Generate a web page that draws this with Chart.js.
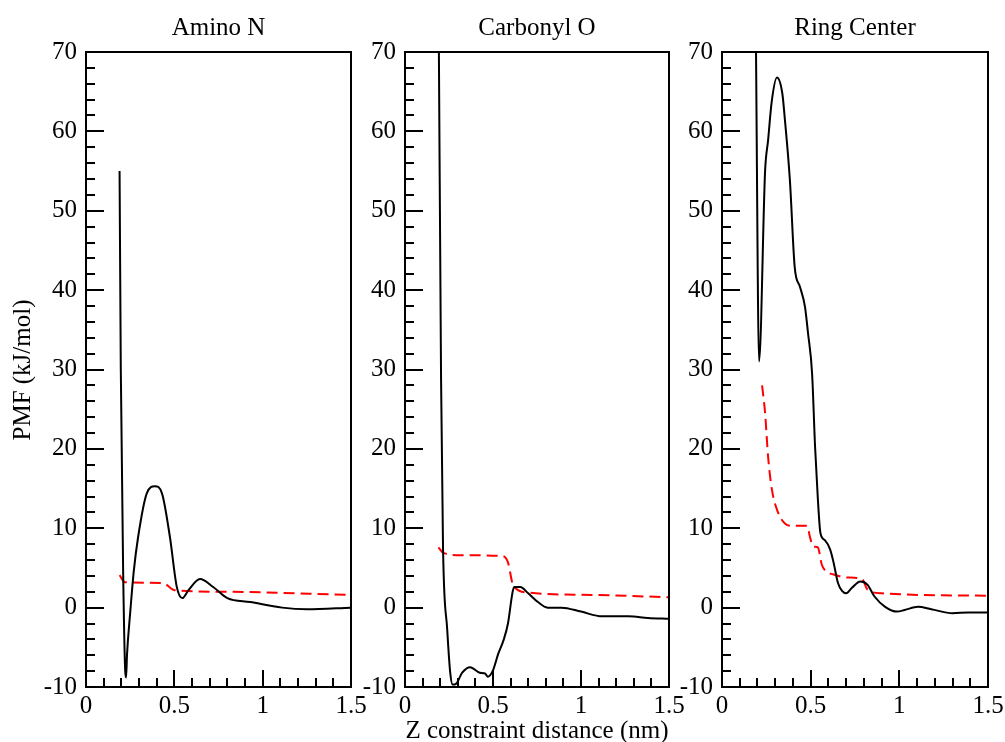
<!DOCTYPE html>
<html>
<head>
<meta charset="utf-8">
<script src="https://cdn.jsdelivr.net/npm/chart.js@4.4.1/dist/chart.umd.min.js"></script>
<style>
  html, body { margin: 0; padding: 0; background: #fff; overflow: hidden; }
  #wrap { position: relative; width: 1005px; height: 742px; overflow: hidden; }
  canvas { position: absolute; top: 0; }
</style>
</head>
<body>
<div id="wrap">
  <canvas id="c1"></canvas>
  <canvas id="c2"></canvas>
  <canvas id="c3"></canvas>
</div>
<script>
// panel titles
const titles = ['Amino N', 'Carbonyl O', 'Ring Center'];

// Amino N
const aminoX    = [0.19, 0.197, 0.21, 0.222, 0.227, 0.232, 0.25, 0.27, 0.295, 0.344, 0.39, 0.43, 0.475, 0.514, 0.545, 0.58, 0.645, 0.72, 0.80, 0.93, 1.11, 1.25, 1.5];
const aminoPmf  = [55, 30, 5, -8, -8.8, -6, -0.7, 4.5, 8.9, 14.4, 15.3, 14.4, 8.9, 2.6, 1.2, 2.2, 3.6, 2.6, 1.2, 0.7, 0, -0.2, 0];
const aminoRefX = [0.19, 0.22, 0.435, 0.5, 0.80, 1.5];
const aminoRef  = [4.1, 3.2, 3.1, 2.2, 2.0, 1.6];

// Carbonyl O
const carbX    = [0.192, 0.205, 0.216, 0.24, 0.257, 0.27, 0.29, 0.325, 0.37, 0.425, 0.455, 0.47, 0.5, 0.53, 0.56, 0.585, 0.61, 0.62, 0.655, 0.70, 0.755, 0.81, 0.89, 1.0, 1.12, 1.27, 1.38, 1.5];
const carbPmf  = [72, 28.6, 7.6, -2.8, -8.2, -9.7, -9.6, -8.2, -7.5, -8.2, -8.3, -8.7, -7.9, -5.8, -4.1, -2.0, 1.8, 2.6, 2.6, 1.8, 0.7, 0, 0, -0.5, -1.1, -1.1, -1.3, -1.4];
const carbRefX = [0.19, 0.217, 0.325, 0.55, 0.585, 0.61, 0.625, 0.70, 1.08, 1.5];
const carbRef  = [7.6, 6.9, 6.6, 6.5, 5.7, 3.1, 2.5, 1.9, 1.6, 1.3];

// Ring Center
const ringX    = [0.191, 0.209, 0.243, 0.26, 0.28, 0.31, 0.34, 0.355, 0.383, 0.41, 0.44, 0.468, 0.485, 0.508, 0.525, 0.54, 0.555, 0.58, 0.61, 0.63, 0.654, 0.677, 0.70, 0.733, 0.78, 0.82, 0.86, 0.92, 0.987, 1.03, 1.105, 1.18, 1.30, 1.39, 1.5];
const ringPmf  = [72, 31, 55, 58.9, 63.7, 66.8, 64.8, 61.4, 53.8, 42.9, 40.4, 37.9, 34.6, 29.5, 20.2, 13.9, 9.4, 8.5, 7.3, 5.6, 3.1, 2.1, 1.8, 2.5, 3.3, 2.9, 1.4, 0.1, -0.5, -0.3, 0.1, -0.2, -0.7, -0.6, -0.6];
const ringRefX = [0.226, 0.243, 0.26, 0.282, 0.316, 0.355, 0.395, 0.48, 0.496, 0.513, 0.54, 0.563, 0.59, 0.626, 0.705, 0.79, 0.82, 0.90, 1.5];
const ringRef  = [28, 24.5, 19, 14.8, 12, 10.6, 10.3, 10.3, 8.9, 7.7, 7.6, 5.4, 4.5, 4.2, 3.8, 3.6, 2.3, 1.8, 1.5];

const FONT = '"Liberation Serif", "Times New Roman", serif';
const plotLeft  = [86, 405, 722];
const plotRight = [351, 669, 988];
const Y_AXIS_W = 86, RIGHT_PAD = 20;

function zip(xs, ys) {
  return xs.map((x, i) => ({ x: x, y: ys[i] }));
}

// box, inward ticks, titles
const framePlugin = {
  id: 'frame',
  afterDraw(chart, args, opts) {
    const ctx = chart.ctx;
    const a = chart.chartArea;
    const xs = chart.scales.x, ys = chart.scales.y;
    ctx.save();
    ctx.strokeStyle = '#000';
    ctx.lineWidth = 2;
    ctx.beginPath();
    for (let i = 0; i <= 15; i++) {
      const px = Math.round(xs.getPixelForValue(i / 10));
      const len = (i % 5 === 0) ? 17 : 9;
      ctx.moveTo(px, a.bottom);
      ctx.lineTo(px, a.bottom - len);
    }
    for (let v = -10; v <= 70; v += 2) {
      const py = Math.round(ys.getPixelForValue(v));
      const len = (v % 10 === 0) ? 18 : 9;
      ctx.moveTo(a.left, py);
      ctx.lineTo(a.left + len, py);
    }
    ctx.stroke();
    ctx.strokeRect(a.left, a.top, a.right - a.left, a.bottom - a.top);

    ctx.fillStyle = '#000';
    ctx.font = '25px ' + FONT;
    ctx.textAlign = 'center';
    ctx.textBaseline = 'alphabetic';
    ctx.fillText(opts.title, (a.left + a.right) / 2, 35);

    if (opts.xTitle) {
      ctx.fillText(opts.xTitle, opts.xTitleX, 738);
    }
    if (opts.yTitle) {
      ctx.translate(30, 370);
      ctx.rotate(-Math.PI / 2);
      ctx.fillText(opts.yTitle, 0, 0);
    }
    ctx.restore();
  }
};

function makeChart(id, idx, pmfX, pmf, refX, ref, extra) {
  const el = document.getElementById(id);
  const w = Y_AXIS_W + (plotRight[idx] - plotLeft[idx]) + RIGHT_PAD;
  el.width = w;
  el.height = 742;
  el.style.left = (plotLeft[idx] - Y_AXIS_W) + 'px';
  return new Chart(el, {
    type: 'line',
    data: {
      datasets: [{
        data: zip(pmfX, pmf),
        borderColor: '#000',
        borderWidth: 2,
        pointRadius: 0,
        cubicInterpolationMode: 'monotone',
        fill: false
      }, {
        data: zip(refX, ref),
        borderColor: '#ff0000',
        borderWidth: 2,
        borderDash: [11, 6],
        pointRadius: 0,
        cubicInterpolationMode: 'monotone',
        fill: false
      }]
    },
    options: {
      responsive: false,
      animation: false,
      devicePixelRatio: 1,
      layout: { padding: { top: 52, right: RIGHT_PAD, left: 0, bottom: 0 } },
      plugins: {
        legend: { display: false },
        tooltip: { enabled: false },
        frame: Object.assign({ title: titles[idx] }, extra)
      },
      scales: {
        x: {
          type: 'linear',
          min: 0,
          max: 1.5,
          grid: { display: false, drawTicks: false, tickLength: 0 },
          border: { display: false },
          ticks: {
            stepSize: 0.5,
            color: '#000',
            padding: 4,
            maxRotation: 0,
            font: { family: FONT, size: 25 },
            callback: (v) => String(v)
          },
          afterFit(scale) { scale.height = 742 - 687; }
        },
        y: {
          min: -10,
          max: 70,
          grid: { display: false, drawTicks: false, tickLength: 0 },
          border: { display: false },
          ticks: {
            stepSize: 10,
            color: '#000',
            padding: 9,
            font: { family: FONT, size: 25 }
          },
          afterFit(scale) { scale.width = Y_AXIS_W; }
        }
      }
    },
    plugins: [framePlugin]
  });
}

makeChart('c1', 0, aminoX, aminoPmf, aminoRefX, aminoRef, { yTitle: 'PMF (kJ/mol)' });
makeChart('c2', 1, carbX, carbPmf, carbRefX, carbRef, { xTitle: 'Z constraint distance (nm)', xTitleX: 537 - (plotLeft[1] - Y_AXIS_W) });
makeChart('c3', 2, ringX, ringPmf, ringRefX, ringRef, {});
</script>
</body>
</html>
